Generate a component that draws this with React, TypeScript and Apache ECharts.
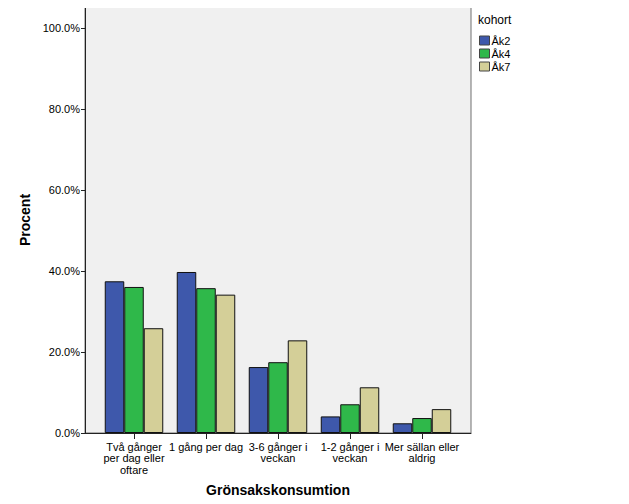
import React, { useEffect, useRef } from "react";
import * as echarts from "echarts";

const categories = [
  "Två gånger\nper dag eller\noftare",
  "1 gång per dag",
  "3-6 gånger i\nveckan",
  "1-2 gånger i\nveckan",
  "Mer sällan eller\naldrig",
];
const seriesNames = ["Åk2", "Åk4", "Åk7"];
const ak2 = [37.5, 39.8, 16.3, 4.1, 2.4];
const ak4 = [36.1, 35.8, 17.5, 7.1, 3.7];
const ak7 = [25.9, 34.2, 22.9, 11.3, 5.9];
const colors = ["#3e58ab", "#2fb84a", "#d4cf98"];

const FONT = "'Liberation Sans', Arial, sans-serif";
const YMAX = 105.3;

export default function App() {
  const ref = useRef<HTMLDivElement>(null);
  useEffect(() => {
    if (!ref.current) return;
    const chart = echarts.init(ref.current, null, { renderer: "svg" });
    const values = [ak2, ak4, ak7];
    chart.setOption({
      animation: false,
      textStyle: { fontFamily: FONT },
      grid: [
        {
          left: 85, right: 158, top: 7, bottom: 71,
          show: true, backgroundColor: "#f0f0f0", borderColor: "#707070", borderWidth: 1,
        },
        { left: 98, right: 171, top: 7, bottom: 71 },
      ],
      legend: {
        orient: "vertical",
        left: 479,
        top: 34,
        padding: 0,
        itemWidth: 10,
        itemHeight: 9,
        itemGap: 0,
        icon: "rect",
        data: seriesNames,
        itemStyle: { borderColor: "#444", borderWidth: 1 },
        textStyle: { fontFamily: FONT, fontSize: 11, color: "#000", lineHeight: 13, padding: [0, 0, 0, -3] },
      },
      graphic: [
        {
          type: "text", left: 478, top: 14,
          style: { text: "kohort", fontFamily: FONT, fontSize: 12, fill: "#000" },
        },
      ],
      xAxis: [
        {
          gridIndex: 0, type: "value", min: 0, max: 1,
          axisLine: { show: true, lineStyle: { color: "#222", width: 1 } },
          axisTick: { show: false }, axisLabel: { show: false }, splitLine: { show: false },
        },
        {
          gridIndex: 1, type: "category", data: categories,
          name: "Grönsakskonsumtion", nameLocation: "middle", nameGap: 50,
          nameTextStyle: { fontFamily: FONT, fontSize: 14, fontWeight: "bold", color: "#000" },
          axisLine: { show: false },
          axisTick: { show: true, alignWithLabel: true, length: 6, lineStyle: { color: "#222" } },
          axisLabel: { fontFamily: FONT, fontSize: 11, color: "#000", lineHeight: 11.5, margin: 8, interval: 0 },
        },
      ],
      yAxis: [
        {
          gridIndex: 0, type: "value", min: 0, max: YMAX, interval: 20,
          name: "Procent", nameLocation: "middle", nameGap: 52,
          nameTextStyle: { fontFamily: FONT, fontSize: 14, fontWeight: "bold", color: "#000" },
          axisLine: { show: true, lineStyle: { color: "#222", width: 1 } },
          axisTick: { show: true, length: 4, lineStyle: { color: "#222" } },
          axisLabel: {
            fontFamily: FONT, fontSize: 11, color: "#000", margin: 5,
            formatter: (v: number) => (v <= 100 ? v.toFixed(1) + "%" : ""),
          },
          splitLine: { show: false },
        },
        {
          gridIndex: 1, type: "value", min: 0, max: YMAX, interval: 20, show: false,
        },
      ],
      series: seriesNames.map((name, i) => ({
        name,
        type: "bar",
        xAxisIndex: 1,
        yAxisIndex: 1,
        data: values[i],
        barWidth: 19.5,
        barGap: "0%",
        itemStyle: { color: colors[i], borderColor: "#111", borderWidth: 1 },
      })),
    });
    return () => chart.dispose();
  }, []);
  return <div ref={ref} style={{ width: 629, height: 504, margin: -8 }} />;
}
